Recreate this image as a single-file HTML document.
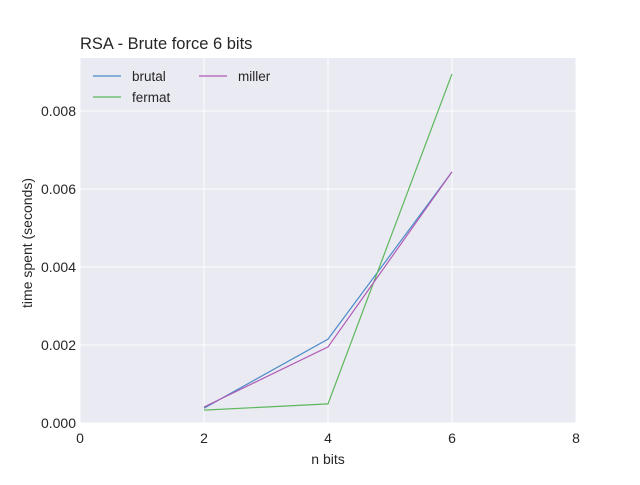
<!DOCTYPE html>
<html><head><meta charset="utf-8"><style>
body{margin:0;background:#fff}
svg text{font-family:"Liberation Sans",sans-serif}
</style></head><body>
<svg id="c" width="640" height="480"></svg>
<script>
const categories=[2,4,6];
const brutal=[0.00038,0.00215,0.00644];
const fermat=[0.00033,0.00049,0.00895];
const miller=[0.00041,0.00195,0.00644];
const xTicks=[0,2,4,6,8];
const yTicks=[0,0.002,0.004,0.006,0.008];
const yLabels=["0.000","0.002","0.004","0.006","0.008"];
const seriesNames=["brutal","fermat","miller"];
const colors=["#4c8bc8","#5cb85c","#b05bb5"];
const L=80,R=576,T=58,B=423;
const xs=v=>L+(v-0)/8*(R-L);
const ys=v=>B-v/0.001*39;
const svg=document.getElementById('c');
const NS='http://www.w3.org/2000/svg';
function mk(t,a,p){const e=document.createElementNS(NS,t);for(const k in a)e.setAttribute(k,a[k]);(p||svg).appendChild(e);return e;}
const bg=mk('rect',{x:L,y:T,width:R-L,height:B-T,fill:'#eaeaf2'});


xTicks.forEach(v=>{
 const g=mk('line',{x1:xs(v),x2:xs(v),y1:T,y2:B,stroke:'#fff','stroke-width':1});
 
 
 const t=mk('text',{x:xs(v),y:B+20,'text-anchor':'middle','font-size':14,fill:'#262626'});
 t.textContent=v;
 
 
});
yTicks.forEach((v,i)=>{
 const g=mk('line',{x1:L,x2:R,y1:ys(v),y2:ys(v),stroke:'#fff','stroke-width':1});
 
 
 const t=mk('text',{x:L-4,y:ys(v)+5,'text-anchor':'end','font-size':14,fill:'#262626'});
 t.textContent=yLabels[i];
 
 
});
[brutal,fermat,miller].forEach((s,i)=>{
 const p=mk('polyline',{points:s.map((v,j)=>xs(categories[j])+','+ys(v)).join(' '),fill:'none',stroke:colors[i],'stroke-width':1.2});
 
 
});
const legPos=[[93,76],[93,97],[199,76]];
seriesNames.forEach((n,i)=>{
 const [x,y]=legPos[i];
 const l=mk('line',{x1:x,x2:x+28,y1:y,y2:y,stroke:colors[i],'stroke-width':1.2});
 
 
 const t=mk('text',{x:x+39,y:y+5,'font-size':13.5,fill:'#262626'});
 t.textContent=n;
 
 
});
const ti=mk('text',{x:80,y:49,'font-size':16.5,fill:'#262626'});ti.textContent='RSA - Brute force 6 bits';


const xt=mk('text',{x:328,y:464,'text-anchor':'middle','font-size':14,fill:'#262626'});xt.textContent='n bits';


const yt=mk('text',{x:32,y:243,'text-anchor':'middle','font-size':14,fill:'#262626',transform:'rotate(-90 32 243)'});yt.textContent='time spent (seconds)';


</script>
</body></html>
